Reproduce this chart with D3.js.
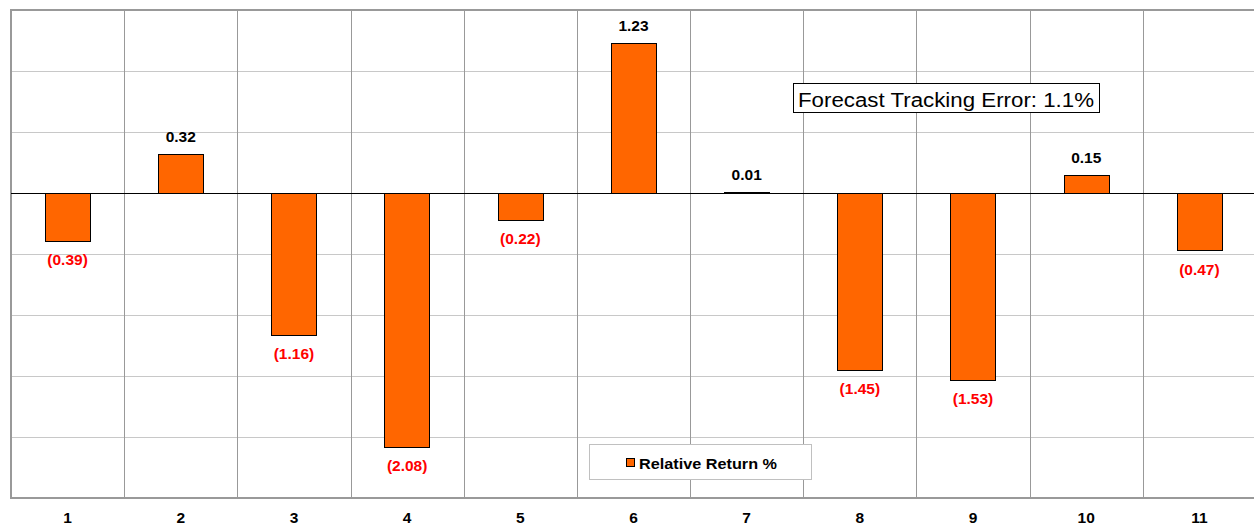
<!DOCTYPE html>
<html>
<head>
<meta charset="utf-8">
<script src="https://cdn.jsdelivr.net/npm/d3@7"></script>
<style>
  body { margin: 0; background: #fff; }
  svg { display: block; font-family: "Liberation Sans", Arial, sans-serif; }
</style>
</head>
<body>
<svg id="chart"></svg>
<script>
const categories = ["1", "2", "3", "4", "5", "6", "7", "8", "9", "10", "11"];
const relativeReturn = [-0.39, 0.32, -1.16, -2.08, -0.22, 1.23, 0.01, -1.45, -1.53, 0.15, -0.47];
const yTicks = [-2.5, -2, -1.5, -1, -0.5, 0, 0.5, 1, 1.5];
const seriesName = "Relative Return %";
const noteText = "Forecast Tracking Error: 1.1%";

const width = 1254;
const height = 527;
const plot = { left: 11, right: 1256, top: 10, bottom: 498 };

const svg = d3.select("#chart")
    .attr("width", width)
    .attr("height", height);

const x = d3.scaleBand()
    .domain(categories)
    .range([plot.left, plot.right])
    .paddingInner(0.6)
    .paddingOuter(0.3);

const y = d3.scaleLinear()
    .domain([-2.5, 1.5])
    .range([plot.bottom, plot.top]);

const step = x.step();
const boundary = (c) => x(c) - step * 0.3;

// horizontal gridlines
svg.append("g")
    .selectAll("line")
    .data(yTicks.filter(t => t !== 0 && t !== -2.5 && t !== 1.5))
    .enter()
    .append("line")
    .attr("x1", plot.left)
    .attr("x2", width)
    .attr("y1", d => Math.round(y(d)) + 0.5)
    .attr("y2", d => Math.round(y(d)) + 0.5)
    .attr("stroke", "#c8c8c8")
    .attr("stroke-width", 1);

// vertical gridlines
svg.append("g")
    .selectAll("line")
    .data(categories.slice(1))
    .enter()
    .append("line")
    .attr("x1", d => Math.round(boundary(d)) + 0.5)
    .attr("x2", d => Math.round(boundary(d)) + 0.5)
    .attr("y1", plot.top)
    .attr("y2", plot.bottom)
    .attr("stroke", "#999")
    .attr("stroke-width", 1);

// plot frame (top, left, bottom)
svg.append("path")
    .attr("d", `M${width},${plot.top} H${plot.left} V${plot.bottom} H${width}`)
    .attr("fill", "none")
    .attr("stroke", "#999")
    .attr("stroke-width", 2);

// bars
svg.append("g")
    .selectAll("rect")
    .data(relativeReturn)
    .enter()
    .append("rect")
    .attr("x", (d, i) => Math.round(x(categories[i])) + 0.5)
    .attr("width", Math.round(x.bandwidth()))
    .attr("y", d => Math.round(y(Math.max(0, d))) + 0.5)
    .attr("height", d => Math.max(1, Math.round(Math.abs(y(d) - y(0)))))
    .attr("fill", "#ff6600")
    .attr("stroke", "#000")
    .attr("stroke-width", 1);

// zero line
svg.append("line")
    .attr("x1", plot.left)
    .attr("x2", width)
    .attr("y1", Math.round(y(0)) + 0.5)
    .attr("y2", Math.round(y(0)) + 0.5)
    .attr("stroke", "#000")
    .attr("stroke-width", 1);

// value labels
const fmt = d3.format(".2f");
svg.append("g")
    .selectAll("text")
    .data(relativeReturn)
    .enter()
    .append("text")
    .attr("x", (d, i) => x(categories[i]) + x.bandwidth() / 2)
    .attr("y", d => d >= 0 ? y(d) - 11.5 : y(d) + 24.5)
    .attr("text-anchor", "middle")
    .attr("font-size", "15.5px")
    .attr("font-weight", "bold")
    .attr("fill", d => d >= 0 ? "#000" : "#ff0000")
    .text(d => d >= 0 ? fmt(d) : "(" + fmt(-d) + ")");

// category labels
svg.append("g")
    .selectAll("text")
    .data(categories)
    .enter()
    .append("text")
    .attr("x", d => x(d) + x.bandwidth() / 2)
    .attr("y", 522.5)
    .attr("text-anchor", "middle")
    .attr("font-size", "15.5px")
    .attr("font-weight", "bold")
    .attr("fill", "#000")
    .text(d => d);

// tracking error note
const note = svg.append("g");
note.append("rect")
    .attr("x", 793.5)
    .attr("y", 83.5)
    .attr("width", 306)
    .attr("height", 29)
    .attr("fill", "#fff")
    .attr("stroke", "#000")
    .attr("stroke-width", 1);
note.append("text")
    .attr("x", 798)
    .attr("y", 106.5)
    .attr("font-size", "20px")
    .attr("textLength", 296)
    .attr("lengthAdjust", "spacingAndGlyphs")
    .attr("fill", "#000")
    .text(noteText);

// legend
const legend = svg.append("g");
legend.append("rect")
    .attr("x", 589.5)
    .attr("y", 444.5)
    .attr("width", 222)
    .attr("height", 35)
    .attr("fill", "#fff")
    .attr("stroke", "#c0c0c0")
    .attr("stroke-width", 1);
legend.append("rect")
    .attr("x", 626.5)
    .attr("y", 458.5)
    .attr("width", 8)
    .attr("height", 8)
    .attr("fill", "#ff6600")
    .attr("stroke", "#000")
    .attr("stroke-width", 1);
legend.append("text")
    .attr("x", 639)
    .attr("y", 468.5)
    .attr("font-size", "15.5px")
    .attr("font-weight", "bold")
    .attr("textLength", 138)
    .attr("lengthAdjust", "spacingAndGlyphs")
    .attr("fill", "#000")
    .text(seriesName);
</script>
</body>
</html>
